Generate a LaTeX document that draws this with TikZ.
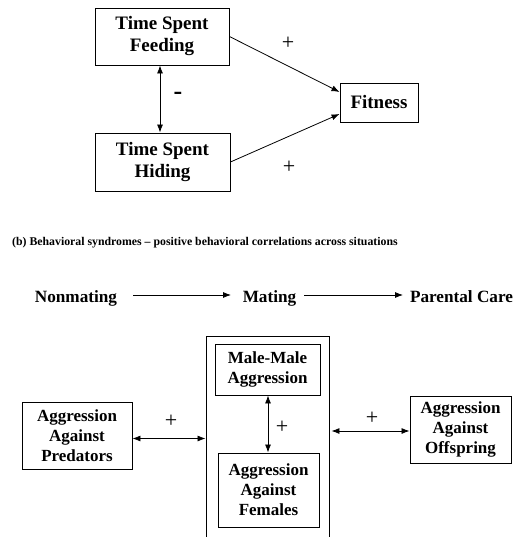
\documentclass[tikz,border=0pt]{standalone}
\usepackage{fontspec}
\setmainfont{Liberation Serif}
\usetikzlibrary{arrows.meta}
\begin{document}
\begin{tikzpicture}[x=1pt,y=-1pt,
  box/.style={draw,line width=0.9pt,inner sep=0pt,align=center,font=\bfseries\fontsize{19}{22}\selectfont},
  sbox/.style={draw,line width=0.9pt,inner sep=0pt,align=center,font=\bfseries\fontsize{17}{20}\selectfont},
  conn/.style={line width=0.8pt,-{Latex[length=8pt,width=6pt]}},
  dconn/.style={line width=0.8pt,{Latex[length=8pt,width=6pt]}-{Latex[length=8pt,width=6pt]}},
  sign/.style={inner sep=0pt,font=\fontsize{22}{22}\selectfont},
  rowtxt/.style={inner sep=0pt,anchor=base,font=\bfseries\fontsize{17.2}{20}\selectfont}]
\useasboundingbox (0,0) rectangle (513,537);
\clip (0,0) rectangle (513,537);
% (a)
\node[box,minimum width=134pt,minimum height=57pt] (feed) at (162,36.5) {Time Spent\\Feeding};
\node[box,minimum width=135pt,minimum height=58pt] (hid) at (162.5,162) {Time Spent\\Hiding};
\node[box,minimum width=78pt,minimum height=39pt] (fit) at (379,102.5) {Fitness};
\draw[dconn] ([xshift=-2pt]feed.south) -- ([xshift=-2pt]feed.south |- hid.north);
\draw[conn] (feed.east) -- ([yshift=10.5pt]fit.west);
\draw[conn] (hid.east) -- ([yshift=-11.5pt]fit.west);
\node[sign,font=\bfseries\fontsize{26}{26}\selectfont] (minus) at (178,96) {-};
\node[sign] (p1) at (288,43) {+};
\node[sign] (p2) at (289,167) {+};
% (b)
\node[inner sep=0pt,anchor=west,font=\bfseries\fontsize{11.8}{14}\selectfont] (head) at (12,243) {(b) Behavioral syndromes -- positive behavioral correlations across situations};
\node[rowtxt] (nonm) at (76,302) {Nonmating};
\node[rowtxt] (mat1) at (269.5,302) {Mating};
\node[rowtxt] (par) at (461.5,302) {Parental Care};
\coordinate (c1) at (133,295);
\coordinate (c2) at (231,295);
\coordinate (c3) at (304,295);
\coordinate (c4) at (403,295);
\draw[conn] (c1) -- (c2);
\draw[conn] (c3) -- (c4);
% boxes
\node[draw,line width=0.9pt,minimum width=123pt,minimum height=224pt,inner sep=0pt] (mat) at (267.5,448) {};
\node[sbox,minimum width=105pt,minimum height=51pt] (mm) at (267.5,369.5) {Male-Male\\Aggression};
\node[sbox,minimum width=101pt,minimum height=74pt] (fem) at (268.5,490) {Aggression\\Against\\Females};
\node[sbox,minimum width=110pt,minimum height=67pt] (pred) at (77,435.5) {Aggression\\Against\\Predators};
\node[sbox,minimum width=101pt,minimum height=67pt] (off) at (460.5,429.5) {Aggression\\Against\\Offspring};
\draw[dconn] ([yshift=-3pt]pred.east) -- ([yshift=-3pt]pred.east -| mat.west);
\draw[dconn] ([yshift=-1.5pt]off.west) -- ([yshift=-1.5pt,xshift=2pt]off.west -| mat.east);
\draw[dconn] ([xshift=0.5pt]mm.south) -- ([xshift=0.5pt]mm.south |- fem.north);
\node[sign] (p3) at (171,421) {+};
\node[sign] (p4) at (372,418) {+};
\node[sign] (p5) at (282,427) {+};
\end{tikzpicture}
\end{document}
